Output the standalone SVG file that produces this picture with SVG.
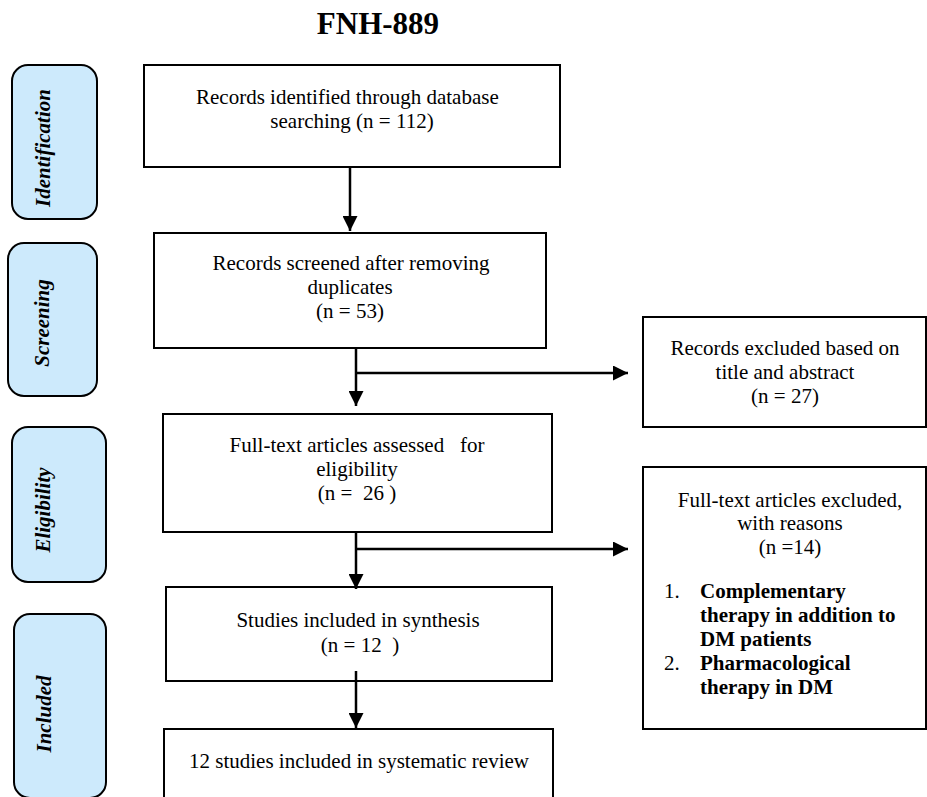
<svg xmlns="http://www.w3.org/2000/svg" width="927" height="797" viewBox="0 0 927 797">
  <defs>
    <style>
      .box { fill: #ffffff; stroke: #000000; stroke-width: 2; }
      .stage { fill: #cdeafc; stroke: #000000; stroke-width: 2; }
      .t { font-family: "Liberation Serif", "Times New Roman", serif; font-size: 21px; fill: #000000; white-space: pre; }
      .c { text-anchor: middle; }
      .b { font-weight: bold; }
      .st { font-family: "Liberation Serif", "Times New Roman", serif; font-size: 21px; font-weight: bold; font-style: italic; text-anchor: middle; fill: #000000; }
      .title { font-family: "Liberation Serif", "Times New Roman", serif; font-size: 31px; font-weight: bold; text-anchor: middle; fill: #000000; }
      .ln { fill: none; stroke: #000000; stroke-width: 2.5; }
    </style>
    <marker id="arrow" viewBox="0 0 10 10" refX="10" refY="5" markerWidth="6" markerHeight="6" markerUnits="strokeWidth" orient="auto">
      <path d="M0,0 L10,5 L0,10 z" fill="#000000"/>
    </marker>
  </defs>

  <rect width="927" height="797" fill="#ffffff"/>

  <text class="title" x="378" y="34">FNH-889</text>

  <!-- stage labels -->
  <g id="stage-identification">
    <rect class="stage" x="12" y="65" width="85" height="154" rx="16"/>
    <text class="st" transform="translate(50,148) rotate(-90)">Identification</text>
  </g>
  <g id="stage-screening">
    <rect class="stage" x="8" y="243" width="89" height="153" rx="16"/>
    <text class="st" transform="translate(49,323) rotate(-90)">Screening</text>
  </g>
  <g id="stage-eligibility">
    <rect class="stage" x="12" y="427" width="94" height="155" rx="16"/>
    <text class="st" transform="translate(50,510) rotate(-90)">Eligibility</text>
  </g>
  <g id="stage-included">
    <rect class="stage" x="14" y="614" width="92" height="184" rx="16"/>
    <text class="st" transform="translate(51,714) rotate(-90)">Included</text>
  </g>

  <!-- main flow boxes -->
  <g id="identified">
    <rect class="box" x="144" y="65" width="416" height="102"/>
    <text class="t c" x="350" y="104">Records identified through database </text>
    <text class="t c" x="352" y="128">searching (n = 112)</text>
  </g>
  <g id="screened">
    <rect class="box" x="154" y="233" width="392" height="115"/>
    <text class="t c" x="351" y="270">Records screened after removing</text>
    <text class="t c" x="350" y="294">duplicates</text>
    <text class="t c" x="350" y="318">(n = 53)</text>
  </g>
  <g id="assessed">
    <rect class="box" x="163" y="414" width="389" height="118"/>
    <text class="t c" x="357" y="452">Full-text articles assessed   for</text>
    <text class="t c" x="357" y="476">eligibility</text>
    <text class="t c" x="357" y="500">(n =  26 )</text>
  </g>
  <g id="synthesis">
    <rect class="box" x="166" y="587" width="386" height="94"/>
    <text class="t c" x="358" y="627">Studies included in synthesis</text>
    <text class="t c" x="360" y="652">(n = 12  )</text>
  </g>
  <g id="review">
    <rect class="box" x="164" y="729" width="389" height="90"/>
    <text class="t c" x="359" y="768">12 studies included in systematic review</text>
  </g>

  <!-- exclusion boxes -->
  <g id="excluded-title-abstract">
    <rect class="box" x="643" y="317" width="283" height="110"/>
    <text class="t c" x="785" y="355">Records excluded based on</text>
    <text class="t c" x="785" y="379">title and abstract</text>
    <text class="t c" x="785" y="403">(n = 27)</text>
  </g>
  <g id="excluded-full-text">
    <rect class="box" x="643" y="467" width="283" height="262"/>
    <text class="t c" x="790" y="507">Full-text articles excluded,</text>
    <text class="t c" x="790" y="530">with reasons</text>
    <text class="t c" x="790" y="554">(n =14)</text>
    <text class="t" x="664" y="598">1.</text>
    <text class="t b" x="700" y="598">Complementary</text>
    <text class="t b" x="700" y="622">therapy in addition to</text>
    <text class="t b" x="700" y="646">DM patients</text>
    <text class="t" x="664" y="670">2.</text>
    <text class="t b" x="700" y="670">Pharmacological</text>
    <text class="t b" x="700" y="694">therapy in DM</text>
  </g>

  <!-- connectors -->
  <g id="connectors">
    <line class="ln" x1="350" y1="167" x2="350" y2="231" marker-end="url(#arrow)"/>
    <line class="ln" x1="356" y1="348" x2="356" y2="406" marker-end="url(#arrow)"/>
    <line class="ln" x1="356" y1="373" x2="628" y2="373" marker-end="url(#arrow)"/>
    <line class="ln" x1="356" y1="532" x2="356" y2="589" marker-end="url(#arrow)"/>
    <line class="ln" x1="356" y1="549" x2="628" y2="549" marker-end="url(#arrow)"/>
    <line class="ln" x1="356" y1="671" x2="356" y2="728" marker-end="url(#arrow)"/>
  </g>
</svg>
